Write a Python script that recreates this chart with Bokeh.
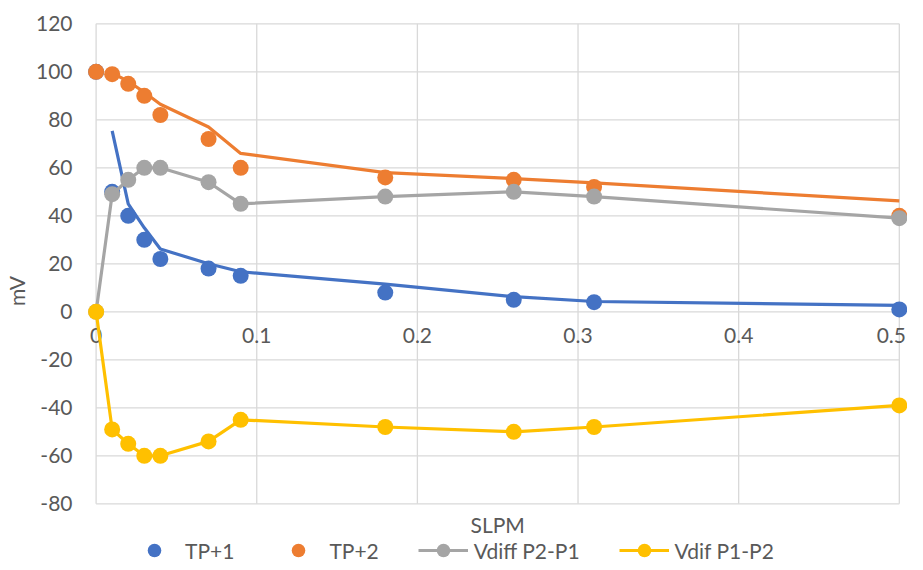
from bokeh.plotting import figure
from bokeh.models import FixedTicker, Legend, LegendItem, Label, PrintfTickFormatter
from bokeh.core.properties import value
from bokeh.embed import file_html
from bokeh.resources import INLINE

# ---- data ----
slpm = [0, 0.01, 0.02, 0.03, 0.04, 0.07, 0.09, 0.18, 0.26, 0.31, 0.5]
tp1 = [100, 50, 40, 30, 22, 18, 15, 8, 5, 4, 1]
tp2 = [100, 99, 95, 90, 82, 72, 60, 56, 55, 52, 40]
vdiff_p2_p1 = [0, 49, 55, 60, 60, 54, 45, 48, 50, 48, 39]
vdif_p1_p2 = [0, -49, -55, -60, -60, -54, -45, -48, -50, -48, -39]

fit_x = [0.01, 0.02, 0.03, 0.04, 0.07, 0.09, 0.18, 0.26, 0.31, 0.5]
tp1_fit = [75.4, 45, 35, 26.2, 20, 16.7, 11.5, 6.3, 4.3, 2.7]
tp2_fit = [99.5, 96, 91.5, 86.5, 77, 66, 58, 55.5, 53.7, 46.2]

x_ticks = [0, 0.1, 0.2, 0.3, 0.4, 0.5]
x_tick_labels = ["0", "0.1", "0.2", "0.3", "0.4", "0.5"]
y_ticks = [-80, -60, -40, -20, 0, 20, 40, 60, 80, 100, 120]

BLUE = "#4472C4"
ORANGE = "#ED7D31"
GRAY = "#A5A5A5"
YELLOW = "#FFC000"
GRID = "#D9D9D9"
TXT = "#595959"
FONT = "Lato"
FS = "21px"

H = 568
p = figure(width=907, height=H,
           x_range=(-0.0066, 0.5051), y_range=(-80 - (H - 503.3) / 2.4, 124.3),
           output_backend="svg", toolbar_location=None,
           x_axis_location=None,
           min_border_left=78, min_border_right=0, min_border_top=13,
           min_border_bottom=0)
p.outline_line_color = None
p.background_fill_color = "white"
p.border_fill_color = "white"
p.xgrid.visible = False
p.ygrid.visible = False

# grid lines limited to the plot area
p.segment(x0=x_ticks, y0=[y_ticks[0]] * len(x_ticks),
          x1=x_ticks, y1=[y_ticks[-1]] * len(x_ticks),
          line_color=GRID, line_width=1.3)
p.segment(x0=[x_ticks[0]] * len(y_ticks), y0=y_ticks,
          x1=[x_ticks[-1]] * len(y_ticks), y1=y_ticks,
          line_color=GRID, line_width=1.3)

# y axis
ya = p.yaxis[0]
ya.ticker = FixedTicker(ticks=y_ticks)
ya.formatter = PrintfTickFormatter(format="%d")
ya.axis_line_color = None
ya.major_tick_line_color = None
ya.minor_tick_line_color = None
ya.major_tick_out = 0
ya.major_tick_in = 0
ya.major_label_standoff = 13
ya.major_label_text_font = FONT
ya.major_label_text_font_size = FS
ya.major_label_text_color = TXT
ya.axis_label = "mV"
ya.axis_label_text_font = FONT
ya.axis_label_text_font_size = FS
ya.axis_label_text_font_style = "normal"
ya.axis_label_text_color = TXT
ya.axis_label_standoff = 4

# x tick labels along the zero line
p.text(x=x_ticks, y=[-10] * len(x_ticks), text=x_tick_labels,
       x_offset=[0, 0, 0, 0, 0, -8],
       text_align="center", text_baseline="middle",
       text_font=value(FONT), text_font_size=FS, text_color=TXT)

# fit lines (not in legend)
p.line(fit_x, tp1_fit, line_color=BLUE, line_width=3.2)
p.line(fit_x, tp2_fit, line_color=ORANGE, line_width=3.2)

# series
r_tp1 = p.scatter(slpm, tp1, size=16, fill_color=BLUE, line_color=None)
r_tp2 = p.scatter(slpm, tp2, size=16, fill_color=ORANGE, line_color=None)
l_g = p.line(slpm, vdiff_p2_p1, line_color=GRAY, line_width=3.2)
s_g = p.scatter(slpm, vdiff_p2_p1, size=16, fill_color=GRAY, line_color=None)
l_y = p.line(slpm, vdif_p1_p2, line_color=YELLOW, line_width=3.2)
s_y = p.scatter(slpm, vdif_p1_p2, size=16, fill_color=YELLOW, line_color=None)

p.add_layout(Label(x=0.25, y=-88.75, text="SLPM",
                   text_align="center", text_baseline="middle",
                   text_font=FONT, text_font_size=FS, text_color=TXT))

legend = Legend(items=[
    LegendItem(label="TP+1", renderers=[r_tp1]),
    LegendItem(label="TP+2", renderers=[r_tp2]),
    LegendItem(label="Vdiff P2-P1", renderers=[l_g, s_g]),
    LegendItem(label="Vdif P1-P2", renderers=[l_y, s_y]),
], orientation="horizontal", location=(44, 1))
legend.label_text_font = FONT
legend.label_text_font_size = FS
legend.label_text_color = TXT
legend.border_line_color = None
legend.background_fill_alpha = 0
legend.glyph_width = 50
legend.glyph_height = 34
legend.label_standoff = 6
legend.spacing = 39
legend.padding = 0
legend.margin = 0
p.add_layout(legend, "center")

open("out.html", "w").write(file_html(p, INLINE))
